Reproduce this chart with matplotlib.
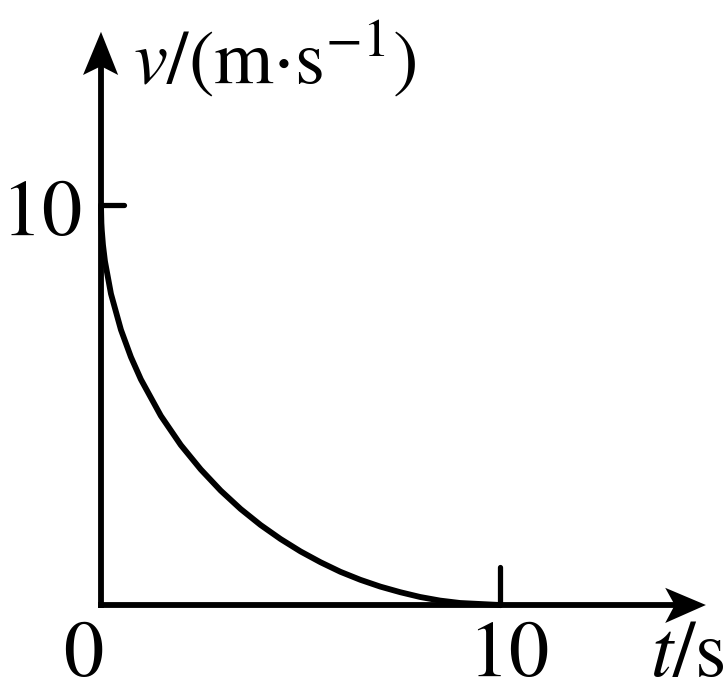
import matplotlib
matplotlib.use("Agg")
import matplotlib.pyplot as plt
from matplotlib.patches import Polygon

# curve (t in s, v in m/s)
t_val = [0, 0.01, 0.02, 0.05, 0.1, 0.25, 0.5, 0.75, 1, 1.5, 2, 2.5, 3, 3.5,
         4, 4.5, 5, 5.5, 6, 6.5, 7, 7.5, 8, 8.5, 9, 10]
v_val = [10, 9.55, 9.37, 9.0, 8.59, 7.78, 6.88, 6.20, 5.64, 4.73, 4.0, 3.39,
         2.86, 2.40, 2.0, 1.65, 1.34, 1.07, 0.83, 0.63, 0.46, 0.32, 0.20,
         0.11, 0.05, 0]

x_ticks = [0, 10]
y_ticks = [10]
x_label = r"$t/\mathrm{s}$"
y_label = r"$v/(\mathrm{m{\cdot}s}^{-1})$"

plt.rcParams['font.family'] = ['Liberation Serif', 'DejaVu Serif']
plt.rcParams['mathtext.fontset'] = 'stix'

fig = plt.figure(figsize=(7.26, 6.94), dpi=100)
ax = fig.add_axes([0, 0, 1, 1])
ax.set_xlim(-2.531, 15.664)
ax.set_ylim(-2.225, 15.125)
ax.axis('off')

lw = 4.2
fs = 58


def num(n):
    # mathtext keeps the text box tight to the digits
    return r"$\mathrm{%d}$" % n


# axes lines
ax.plot([0, 0], [-0.07, 13.6], color='black', lw=lw, solid_capstyle='butt')
ax.plot([-0.07, 14.5], [0, 0], color='black', lw=lw, solid_capstyle='butt')

# arrow heads
ax.add_patch(Polygon([(0, 14.33), (0.43, 13.25), (0, 13.47), (-0.45, 13.25)],
                     closed=True, color='black', lw=0))
ax.add_patch(Polygon([(15.16, 0), (14.14, -0.45), (14.38, 0), (14.14, 0.43)],
                     closed=True, color='black', lw=0))

# tick marks
ax.plot([x_ticks[1], x_ticks[1]], [0, 0.95], color='black', lw=lw * 0.9,
        solid_capstyle='round')
ax.plot([0, 0.58], [y_ticks[0], y_ticks[0]], color='black', lw=lw * 0.9,
        solid_capstyle='round')

# curve
ax.plot(t_val, v_val, color='black', lw=lw, solid_capstyle='round')

# labels
ax.text(-0.45, -1.78, num(x_ticks[0]), fontsize=fs, ha='center', va='baseline')
ax.text(10.2, -1.78, num(x_ticks[1]), fontsize=fs, ha='center', va='baseline')
ax.text(-0.5, 9.25, num(y_ticks[0]), fontsize=fs, ha='right', va='baseline')
ax.text(13.75, -1.78, x_label, fontsize=fs, ha='left', va='baseline')
ax.text(0.8, 13.05, y_label, fontsize=55, ha='left', va='baseline')

fig.savefig("out.png", dpi=100)
